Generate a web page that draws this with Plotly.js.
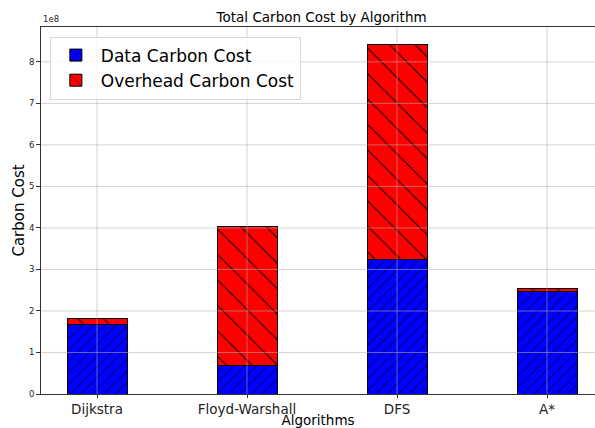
<!DOCTYPE html>
<html>
<head>
<meta charset="utf-8">
<script src="https://cdn.plot.ly/plotly-3.0.1.min.js"></script>
<style>html,body{margin:0;padding:0;background:#fff;}#chart{width:595px;height:428px;}</style>
</head>
<body>
<div id="chart"></div>
<script>
var algorithms = ["Dijkstra", "Floyd-Warshall", "DFS", "A*"];
var dataCarbon = [1.68e8, 0.675e8, 3.25e8, 2.48e8];
var overheadCarbon = [0.14e8, 3.36e8, 5.16e8, 0.07e8];
var yTickVals = [0, 1e8, 2e8, 3e8, 4e8, 5e8, 6e8, 7e8, 8e8];
var yTickText = ["0", "1", "2", "3", "4", "5", "6", "7", "8"];

var font = "DejaVu Sans, Verdana, sans-serif";
var gridColor = "rgba(176,176,176,0.55)";

var traces = [
  {
    type: "bar", name: "Data Carbon Cost", x: algorithms, y: dataCarbon, width: 0.4,
    marker: {color: "#0000ff", line: {color: "#000", width: 1},
      pattern: {shape: "/", fgcolor: "#000", bgcolor: "#0000ff", size: 8, solidity: 0.1}}
  },
  {
    type: "bar", name: "Overhead Carbon Cost", x: algorithms, y: overheadCarbon, width: 0.4,
    marker: {color: "#ff0000", line: {color: "#000", width: 1},
      pattern: {shape: "\\", fgcolor: "#000", bgcolor: "#ff0000", size: 18, solidity: 0.055}}
  }
];

var shapes = [];
for (var i = 0; i < algorithms.length; i++) {
  shapes.push({type: "line", layer: "above", xref: "x", yref: "paper", x0: i, x1: i, y0: 0, y1: 1,
    line: {color: gridColor, width: 1}});
}
for (var j = 1; j < yTickVals.length; j++) {
  shapes.push({type: "line", layer: "above", xref: "paper", yref: "y", x0: 0, x1: 1, y0: yTickVals[j], y1: yTickVals[j],
    line: {color: gridColor, width: 1}});
}

var layout = {
  width: 595, height: 428,
  margin: {l: 41, r: 0, t: 27, b: 34},
  paper_bgcolor: "#fff", plot_bgcolor: "#fff",
  font: {family: font, color: "#000"},
  barmode: "stack",
  showlegend: true,
  title: {text: "Total Carbon Cost by Algorithm", font: {size: 13.5, family: font, color: "#000"},
    x: 0.5405, xanchor: "center", xref: "container", y: 1 - 17/428, yanchor: "middle", yref: "container"},
  xaxis: {
    type: "category", range: [-0.3733, 3.32], showgrid: false, zeroline: false,
    showline: true, linecolor: "#333", linewidth: 1, mirror: true,
    ticks: "outside", ticklen: 3, tickcolor: "#333",
    tickfont: {size: 13.5, family: font, color: "#222"},
    title: {text: "Algorithms", font: {size: 13.5, family: font, color: "#000"}, standoff: 9}
  },
  yaxis: {
    range: [0, 8.84e8], tickvals: yTickVals, ticktext: yTickText, showgrid: false, zeroline: false,
    showline: true, linecolor: "#333", linewidth: 1,
    ticks: "outside", ticklen: 4, tickcolor: "#333",
    tickfont: {size: 8.5, family: font, color: "#222"},
    title: {text: "Carbon Cost", font: {size: 15, family: font, color: "#000"}, standoff: 0}
  },
  legend: {
    x: 0.016, y: 0.974, xanchor: "left", yanchor: "top", traceorder: "normal",
    bgcolor: "rgba(255,255,255,0.8)", bordercolor: "#d8d8d8", borderwidth: 1,
    font: {size: 17, family: font, color: "#000"}, itemwidth: 40
  },
  shapes: shapes,
  annotations: [{text: "1e8", xref: "paper", yref: "paper", x: 0, y: 1, xanchor: "left", yanchor: "bottom",
    showarrow: false, font: {size: 8.5, family: font, color: "#222"}, yshift: 1}]
};

Plotly.newPlot("chart", traces, layout, {displayModeBar: false, staticPlot: true});
</script>
</body>
</html>
